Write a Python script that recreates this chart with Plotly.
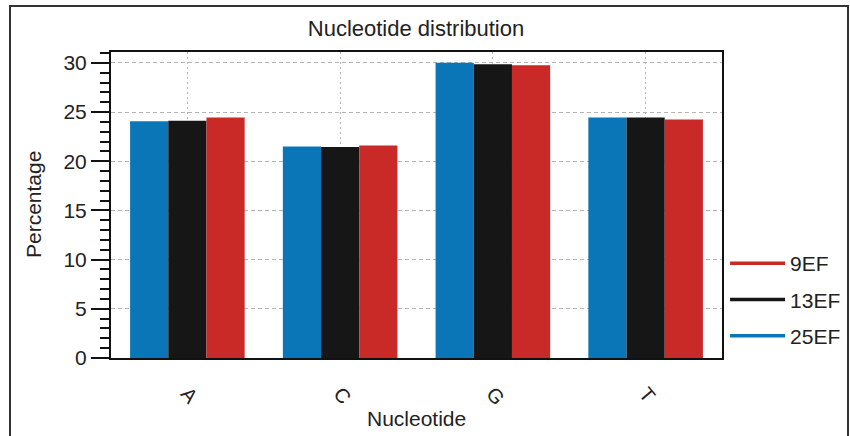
import plotly.graph_objects as go

categories = ["A", "C", "G", "T"]
series_names = ["25EF", "13EF", "9EF"]
values_25EF = [24.05, 21.5, 30.0, 24.45]
values_13EF = [24.1, 21.45, 29.85, 24.45]
values_9EF = [24.45, 21.6, 29.75, 24.25]
colors = ["#0a76b7", "#161616", "#c92a28"]

W, H = 850, 436
L, R, T, B = 111, 128, 52, 78
PW, PH = W - L - R, H - T - B

fig = go.Figure()
for name, vals, col in zip(series_names, [values_25EF, values_13EF, values_9EF], colors):
    fig.add_trace(go.Bar(x=categories, y=vals, name=name, marker=dict(color=col, line=dict(width=0)),
                         showlegend=False))
# legend entries drawn as lines (order: 9EF, 13EF, 25EF)
for name, col in zip(reversed(series_names), reversed(colors)):
    fig.add_trace(go.Scatter(x=[None], y=[None], mode="lines", name=name,
                             line=dict(color=col, width=3.5), legendgroup=name))

font = "Liberation Sans, Arial, sans-serif"
fig.update_layout(
    width=W, height=H,
    margin=dict(l=L, r=R, t=T, b=B, autoexpand=False),
    paper_bgcolor="white", plot_bgcolor="white",
    barmode="group", bargap=0.25, bargroupgap=0,
    font=dict(family=font, size=21, color="#222"),
    title=dict(text="Nucleotide distribution", x=416 / W, xanchor="center",
               y=1 - 28 / H, yanchor="middle", font=dict(size=22, color="#222")),
    legend=dict(x=1.005, xanchor="left", y=(H - B - 243) / PH, yanchor="top", traceorder="grouped",
                tracegroupgap=6, itemwidth=55, font=dict(size=21, color="#222"),
                bgcolor="rgba(0,0,0,0)"),
    showlegend=True,
)
fig.update_xaxes(
    automargin=False,
    showline=True, linecolor="#111", linewidth=2, mirror=True,
    showgrid=True, gridcolor="#b4b4b4", griddash="2px,3px", gridwidth=1,
    tickangle=50, ticks="", ticklabelstandoff=14,
    tickfont=dict(size=20),
)
fig.update_yaxes(
    automargin=False,
    range=[0, 31.1], showline=True, linecolor="#111", linewidth=2, mirror=True,
    showgrid=True, gridcolor="#b4b4b4", griddash="4px,3px", gridwidth=1,
    zeroline=False,
    tickvals=[0, 5, 10, 15, 20, 25, 30], ticks="outside", ticklen=18, tickwidth=2, tickcolor="#111",
    minor=dict(dtick=1, ticks="outside", ticklen=9, tickwidth=1.5, tickcolor="#111", showgrid=False),
    tickfont=dict(size=21),
)
# axis titles
fig.add_annotation(text="Nucleotide", xref="paper", yref="paper",
                   x=(416 - L) / PW, y=-(418 - (H - B)) / PH, xanchor="center", yanchor="middle",
                   showarrow=False, font=dict(size=21, color="#222"))
fig.add_annotation(text="Percentage", xref="paper", yref="paper", textangle=-90,
                   x=(33 - L) / PW, y=0.5, xanchor="center", yanchor="middle",
                   showarrow=False, font=dict(size=21, color="#222"))
# outer figure border
fig.add_shape(type="rect", xref="paper", yref="paper",
              x0=(10 - L) / PW, x1=(848 - L) / PW,
              y0=(H - B - 440) / PH, y1=(H - B - 6) / PH,
              line=dict(color="#333", width=2), fillcolor="rgba(0,0,0,0)", layer="below")
fig.write_html("out.html", config={"displayModeBar": False},
               post_script="document.body.style.margin='0';document.body.style.overflow='hidden';")
